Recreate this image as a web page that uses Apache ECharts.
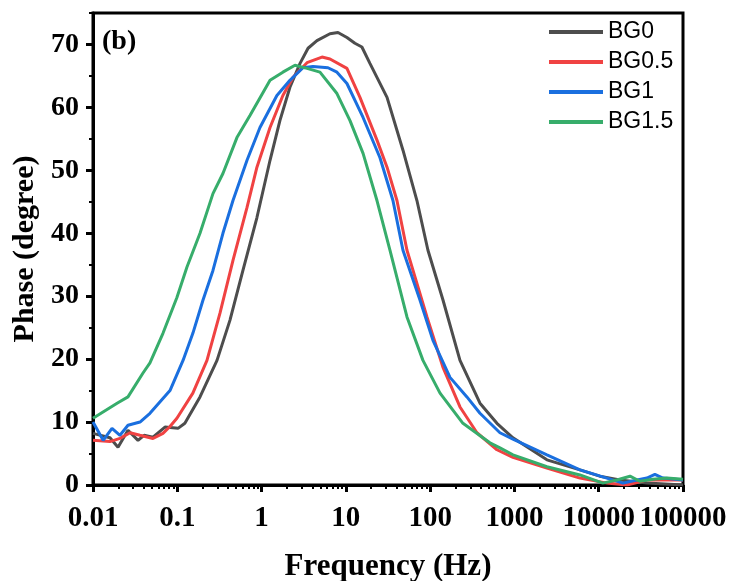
<!DOCTYPE html>
<html>
<head>
<meta charset="utf-8">
<script src="https://cdn.jsdelivr.net/npm/echarts@6/dist/echarts.min.js"></script>
<style>html,body{margin:0;padding:0;background:#fff;}#c{width:730px;height:581px;}</style>
</head>
<body>
<div id="c"></div>
<script>
const seriesNames = ['BG0', 'BG0.5', 'BG1', 'BG1.5'];
const seriesColors = ['#4d4d4d', '#f04242', '#1a6fdf', '#37ad6b'];

const xTickValues = [0.01, 0.1, 1, 10, 100, 1000, 10000, 100000];
const xTickLabels = ['0.01', '0.1', '1', '10', '100', '1000', '10000', '100000'];
const yTickValues = [0, 10, 20, 30, 40, 50, 60, 70];
const yTickLabels = ['0', '10', '20', '30', '40', '50', '60', '70'];
const yMinorTicks = [5, 15, 25, 35, 45, 55, 65, 75];

const freqBG0 = [0.01, 0.0159, 0.0198, 0.026, 0.0342, 0.0403, 0.0515, 0.0714, 0.102, 0.123, 0.186, 0.296, 0.422, 0.601, 0.881, 1.26, 1.65, 2.17, 2.86, 3.56, 4.54, 6.48, 8.06, 10.3, 12.8, 15.5, 19.3, 30.8, 47.6, 69.7, 94.2, 142, 226, 390, 620, 960, 2430, 5990, 10300, 17800, 37300, 100000];
const phaseBG0 = [8.2, 7.5, 6.0, 8.7, 7.1, 7.9, 7.6, 9.2, 9.0, 9.8, 14, 19.8, 26.2, 34.1, 42.5, 51.6, 57.9, 63.2, 67, 69.4, 70.6, 71.7, 71.9, 71.1, 70.2, 69.6, 67, 61.6, 53.2, 45.2, 37.3, 29.4, 19.8, 13, 9.8, 7.5, 4, 2.4, 1.4, 0.8, 0.3, 0];

const freqBG05 = [0.01, 0.0159, 0.0209, 0.0275, 0.0361, 0.0515, 0.0676, 0.0819, 0.099, 0.153, 0.225, 0.321, 0.458, 0.672, 0.881, 1.26, 1.79, 2.36, 3.46, 5.21, 6.48, 10.3, 14.7, 23.4, 30.8, 40.4, 53.1, 91.7, 142, 226, 359, 620, 960, 2430, 5990, 12500, 21600, 37300, 100000];
const phaseBG05 = [7.1, 6.9, 7.4, 8.3, 7.9, 7.4, 8.2, 9.3, 10.6, 14.6, 19.8, 27.3, 35.7, 44.1, 50.5, 56.8, 61.9, 64.8, 67.1, 68, 67.7, 66.2, 61.6, 54.8, 50.5, 45.2, 37.3, 26.7, 18.7, 12.4, 8.3, 5.6, 4.4, 2.7, 1.1, 0.3, 0, 0.8, 0.8];

const freqBG1 = [0.01, 0.0132, 0.0168, 0.0209, 0.026, 0.0361, 0.0474, 0.0819, 0.117, 0.153, 0.202, 0.265, 0.348, 0.458, 0.672, 0.957, 1.52, 2.17, 3.10, 4.07, 6.14, 7.84, 10.3, 16.0, 25.4, 36.2, 47.6, 75.7, 108, 172, 273, 390, 673, 960, 2430, 5990, 12500, 19400, 28400, 37300, 46400, 57800, 100000];
const phaseBG1 = [10, 7.1, 9, 7.9, 9.5, 10, 11.4, 15, 19.8, 24.1, 29.4, 34.1, 40, 45.2, 51.6, 56.8, 61.9, 64.3, 66.3, 66.5, 66.3, 65.6, 63.8, 58.4, 52, 45.2, 37.3, 29.4, 23, 17.1, 14, 11.4, 8.3, 7.3, 4.8, 2.4, 1.1, 0.3, 0.8, 1.1, 1.7, 1.1, 0.8];

const freqBG15 = [0.01, 0.0193, 0.026, 0.0392, 0.0474, 0.0676, 0.099, 0.130, 0.186, 0.265, 0.348, 0.510, 0.728, 1.26, 1.79, 2.49, 3.46, 4.93, 7.84, 11.2, 16.0, 23.4, 33.4, 53.1, 82.2, 131, 245, 423, 512, 673, 960, 2430, 5990, 11200, 16400, 23500, 30800, 44000, 64400, 100000];
const phaseBG15 = [10.6, 13, 14, 17.8, 19.4, 24.1, 29.8, 34.6, 40, 46.3, 49.5, 55.2, 58.7, 64.3, 65.6, 66.7, 66.2, 65.6, 62.2, 57.9, 52.7, 45.2, 37.3, 26.7, 19.8, 14.6, 9.8, 7.5, 6.7, 5.9, 4.8, 2.9, 1.6, 0.3, 0.8, 1.4, 0.6, 0.9, 1.1, 0.9];

const allFreq = [freqBG0, freqBG05, freqBG1, freqBG15];
const allPhase = [phaseBG0, phaseBG05, phaseBG1, phaseBG15];

// minor tick positions on the log axis (2..9 within each decade)
const xMinorTicks = [];
for (let d = 0; d < xTickValues.length - 1; d++) {
  for (let k = 2; k <= 9; k++) xMinorTicks.push(+(k * xTickValues[d]).toPrecision(3));
}

const serif = '"Liberation Serif", "Times New Roman", serif';
const chart = echarts.init(document.getElementById('c'), null, {renderer: 'canvas'});

const series = seriesNames.map((name, i) => ({
  name: name,
  type: 'line',
  xAxisIndex: 0,
  yAxisIndex: 0,
  symbol: 'none',
  smooth: false,
  lineStyle: {width: 3, color: seriesColors[i]},
  itemStyle: {color: seriesColors[i]},
  data: allFreq[i].map((f, j) => [f, allPhase[i][j]])
}));

chart.setOption({
  animation: false,
  backgroundColor: '#fff',
  grid: {left: 93, right: 47, top: 13, bottom: 96, show: true, borderColor: '#000', borderWidth: 3,
    backgroundColor: 'transparent', containLabel: false, outerBoundsMode: 'none'},
  legend: {
    orient: 'vertical', left: 544, top: 15,
    icon: 'rect', itemWidth: 54, itemHeight: 4, itemGap: 6,
    textStyle: {fontFamily: '"Liberation Sans", Arial, sans-serif', fontSize: 23, color: '#000', lineHeight: 24},
    data: seriesNames
  },
  graphic: [{type: 'text', left: 102, top: 28, style: {text: '(b)', font: 'bold 28px ' + serif, fill: '#000'}}],
  xAxis: [{
    type: 'log', logBase: 10, min: 0.01, max: 100000,
    name: 'Frequency (Hz)', nameLocation: 'middle', nameGap: 66,
    nameTextStyle: {fontFamily: serif, fontWeight: 'bold', fontSize: 31, color: '#000'},
    axisLine: {show: true, lineStyle: {color: '#000', width: 3}},
    axisTick: {show: true, inside: false, length: 7, lineStyle: {color: '#000', width: 3}, customValues: xTickValues},
    axisLabel: {show: true, margin: 19, color: '#000', fontFamily: serif, fontWeight: 'bold', fontSize: 29,
      customValues: xTickValues,
      formatter: v => xTickLabels[Math.round(Math.log10(v)) + 2]},
    splitLine: {show: false}, minorTick: {show: false}
  }, {
    type: 'log', logBase: 10, min: 0.01, max: 100000, position: 'bottom', gridIndex: 0,
    axisLine: {show: false},
    axisTick: {show: true, inside: false, length: 4, lineStyle: {color: '#000', width: 2}, customValues: xMinorTicks},
    axisLabel: {show: false}, splitLine: {show: false}
  }],
  yAxis: [{
    type: 'value', min: 0, max: 75,
    name: 'Phase (degree)', nameLocation: 'middle', nameGap: 52,
    nameTextStyle: {fontFamily: serif, fontWeight: 'bold', fontSize: 30, color: '#000'},
    axisLine: {show: true, lineStyle: {color: '#000', width: 3}},
    axisTick: {show: true, inside: false, length: 7, lineStyle: {color: '#000', width: 3}, customValues: yTickValues},
    axisLabel: {show: true, margin: 14, color: '#000', fontFamily: serif, fontWeight: 'bold', fontSize: 28,
      customValues: yTickValues,
      formatter: v => yTickLabels[yTickValues.indexOf(Math.round(v))]},
    splitLine: {show: false}
  }, {
    type: 'value', min: 0, max: 75, position: 'left', gridIndex: 0,
    axisLine: {show: false},
    axisTick: {show: true, inside: false, length: 4, lineStyle: {color: '#000', width: 2}, customValues: yMinorTicks},
    axisLabel: {show: false}, splitLine: {show: false}
  }],
  series: series
});
</script>
</body>
</html>
